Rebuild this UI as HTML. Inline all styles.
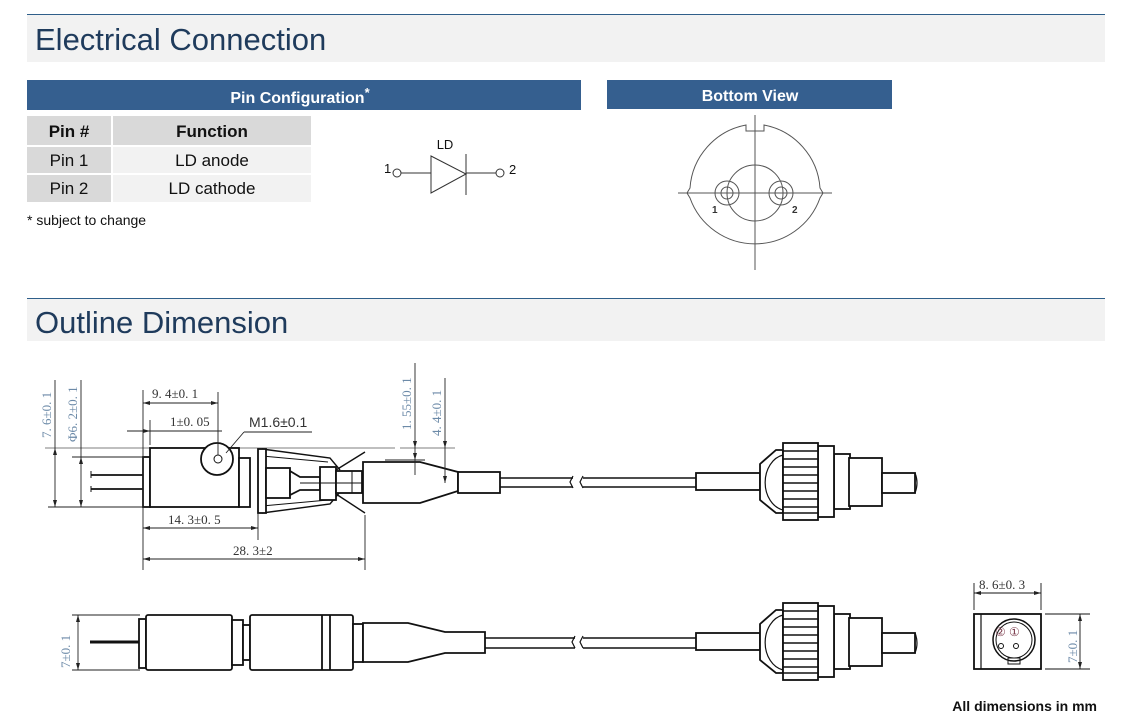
<!DOCTYPE html>
<html><head><meta charset="utf-8"><style>
body{margin:0;width:1124px;height:720px;background:#fff;overflow:hidden;font-family:"Liberation Sans",Arial,sans-serif}
svg{position:absolute;left:0;top:0}
</style></head><body>
<svg width="1124" height="720" viewBox="0 0 1124 720" xmlns="http://www.w3.org/2000/svg">
<defs>
<g id="conn" fill="#fff" stroke="#111" stroke-width="1.8">
  <rect x="696" y="473" width="64" height="17"/>
  <polygon points="760,464 776,450 783,450 783,513 776,513 760,500"/>
  <path d="M783,455 A22,28 0 0 0 783,510" fill="none" stroke-width="1.2"/>
  <rect x="834" y="454" width="16" height="55"/>
  <rect x="849" y="458" width="33" height="48"/>
  <rect x="882" y="473" width="33" height="20"/>
  <path d="M915,473 q4,10 0,20" fill="none" stroke-width="1.2"/>
  <rect x="818" y="446" width="16" height="71"/>
  <rect x="783" y="443" width="35" height="77"/>
  <path d="M783,451H818M783,459H818M783,467H818M783,475H818M783,483H818M783,491H818M783,499H818M783,507H818M783,513H818" stroke-width="1.4"/>
</g>
</defs>

<rect x="27" y="14" width="1078" height="48" fill="#f2f2f2"/>
<line x1="27" y1="14.5" x2="1105" y2="14.5" stroke="#2f5f8a" stroke-width="1"/>
<text x="35" y="50" font-size="31" fill="#1f3b5c">Electrical Connection</text>
<rect x="27" y="299" width="1078" height="42" fill="#f2f2f2"/>
<line x1="27" y1="298.5" x2="1105" y2="298.5" stroke="#2f5f8a" stroke-width="1"/>
<text x="35" y="333" font-size="31" fill="#1f3b5c">Outline Dimension</text>

<rect x="27" y="80" width="554" height="30" fill="#355f8f"/>
<text x="300" y="103" font-size="16" font-weight="bold" fill="#fff" text-anchor="middle">Pin Configuration<tspan dy="-6" font-size="13">*</tspan></text>
<rect x="27" y="116" width="84" height="29" fill="#d9d9d9"/>
<rect x="113" y="116" width="198" height="29" fill="#d9d9d9"/>
<rect x="27" y="147" width="84" height="26" fill="#d9d9d9"/>
<rect x="113" y="147" width="198" height="26" fill="#f2f2f2"/>
<rect x="27" y="175" width="84" height="27" fill="#d9d9d9"/>
<rect x="113" y="175" width="198" height="27" fill="#f2f2f2"/>
<g font-size="17" text-anchor="middle" fill="#111">
<text x="69" y="137" font-weight="bold">Pin #</text>
<text x="212" y="137" font-weight="bold">Function</text>
<text x="69" y="166">Pin 1</text>
<text x="212" y="166">LD anode</text>
<text x="69" y="194">Pin 2</text>
<text x="212" y="194">LD cathode</text>
</g>
<text x="27" y="225" font-size="14" fill="#111">* subject to change</text>

<g stroke="#333" stroke-width="1" fill="none">
<circle cx="397" cy="173" r="4"/>
<line x1="401" y1="173" x2="431" y2="173"/>
<polygon points="431,156 431,193 466,174"/>
<line x1="466" y1="154" x2="466" y2="195"/>
<line x1="466" y1="173" x2="496" y2="173"/>
<circle cx="500" cy="173" r="4"/>
</g>
<text x="445" y="149" font-size="13" fill="#111" text-anchor="middle">LD</text>
<text x="384" y="173" font-size="13" fill="#111">1</text>
<text x="509" y="174" font-size="13" fill="#111">2</text>

<rect x="607" y="80" width="285" height="29" fill="#355f8f"/>
<text x="750" y="101" font-size="16" font-weight="bold" fill="#fff" text-anchor="middle">Bottom View</text>
<g stroke="#555" stroke-width="1" fill="none">
<path d="M746,125 L746,131 L764,131 L764,125 A69,69 0 0 1 820,188 L823,193 L820,198 A69,69 0 0 1 690,198 L687,193 L690,188 A69,69 0 0 1 746,125 Z"/>
<line x1="755" y1="115" x2="755" y2="270"/>
<line x1="678" y1="193" x2="832" y2="193"/>
<circle cx="755" cy="193" r="28"/>
<circle cx="727" cy="193" r="12"/><circle cx="727" cy="193" r="6"/>
<circle cx="781" cy="193" r="12"/><circle cx="781" cy="193" r="6"/>
</g>
<text x="712" y="213" font-size="10" font-weight="bold" fill="#333">1</text>
<text x="792" y="213" font-size="10" font-weight="bold" fill="#333">2</text>

<g stroke="#aaa" stroke-width="1.5"><line x1="45" y1="448" x2="395" y2="448"/><line x1="400" y1="448" x2="455" y2="448"/></g>
<g fill="#fff" stroke="#111" stroke-width="1.8">
<line x1="91" y1="475" x2="143" y2="475"/><line x1="91" y1="489" x2="143" y2="489"/>
<line x1="91" y1="471" x2="91" y2="478" stroke-width="1"/><line x1="91" y1="486" x2="91" y2="492" stroke-width="1"/>
<rect x="143" y="457" width="7" height="50"/>
<rect x="150" y="448" width="89" height="59"/>
<circle cx="217" cy="459" r="16"/>
<circle cx="218" cy="459" r="4" stroke-width="1"/>
<rect x="239" y="458" width="11" height="49"/>
<path d="M262,449 L330,458 L340,470 M262,513 L330,504 L340,492" fill="none" stroke-width="1.4"/>
<path d="M262,456 L328,462 M262,506 L328,500" fill="none" stroke-width="1"/>
<rect x="258" y="449" width="8" height="64"/>
<rect x="266" y="468" width="24" height="30"/>
<polygon points="290,471 300,477 320,477 320,490 300,490 290,495"/>
<rect x="320" y="467" width="16" height="33"/>
<rect x="336" y="471" width="26" height="22"/>
<line x1="352" y1="471" x2="352" y2="493" stroke-width="1"/>
<path d="M336,470 L365,452 M336,494 L365,513" stroke-width="1.4"/>
<line x1="300" y1="483" x2="455" y2="483" stroke-width="1"/>
<polygon points="363,462 420,462 458,472 458,491 420,503 363,503"/>
<rect x="458" y="472" width="42" height="21"/>
<path d="M500,478 H573 M500,487 H573 M583,478 H696 M583,487 H696" stroke-width="1.6"/>
<path d="M573,476 l-3,6 l3,6 M583,476 l-3,6 l3,6" fill="none" stroke-width="1.2"/>
</g>
<use href="#conn"/>

<g stroke="#222" stroke-width="0.9" fill="none">
<line x1="48" y1="507" x2="143" y2="507"/>
<line x1="72" y1="457" x2="143" y2="457"/>
<line x1="55" y1="380" x2="55" y2="507"/>
<line x1="81" y1="380" x2="81" y2="507"/>
<line x1="143" y1="390" x2="143" y2="570"/>
<line x1="218" y1="392" x2="218" y2="455"/>
<line x1="150" y1="420" x2="150" y2="445"/>
<line x1="143" y1="403" x2="218" y2="403"/>
<line x1="127" y1="431" x2="222" y2="431"/>
<line x1="143" y1="528" x2="258" y2="528"/>
<line x1="258" y1="513" x2="258" y2="540"/>
<line x1="143" y1="559" x2="365" y2="559"/>
<line x1="365" y1="515" x2="365" y2="570"/>
<line x1="415" y1="363" x2="415" y2="475"/>
<line x1="445" y1="378" x2="445" y2="483"/>
<line x1="385" y1="460" x2="425" y2="460"/>
<line x1="226" y1="453" x2="244" y2="432"/><line x1="244" y1="432" x2="312" y2="432"/>
</g>
<g fill="#222">
<polygon points="143,403 150,401 150,405"/><polygon points="218,403 211,401 211,405"/>
<polygon points="150,431 143,429 143,433"/>
<polygon points="143,528 150,526 150,530"/><polygon points="258,528 251,526 251,530"/>
<polygon points="143,559 150,557 150,561"/><polygon points="365,559 358,557 358,561"/>
<polygon points="55,448 53,455 57,455"/><polygon points="55,507 53,500 57,500"/>
<polygon points="81,457 79,464 83,464"/><polygon points="81,507 79,500 83,500"/>
<polygon points="415,460 413,453 417,453"/><polygon points="415,448 413,441 417,441"/>
<polygon points="445,448 443,441 447,441"/><polygon points="445,483 443,476 447,476"/>
</g>
<g font-family="Liberation Serif,serif" font-size="13" fill="#333">
<text x="152" y="398">9. 4±0. 1</text>
<text x="170" y="426">1±0. 05</text>
<text x="249" y="427" font-family="Liberation Sans,sans-serif" font-size="14">M1.6±0.1</text>
<text x="168" y="524">14. 3±0. 5</text>
<text x="233" y="555">28. 3±2</text>
</g>
<g font-family="Liberation Serif,serif" font-size="13" fill="#6c8aa8">
<text transform="translate(51,438) rotate(-90)">7. 6±0. 1</text>
<text transform="translate(77,442) rotate(-90)">Φ6. 2±0. 1</text>
<text transform="translate(411,430) rotate(-90)">1. 55±0. 1</text>
<text transform="translate(441,436) rotate(-90)">4. 4±0. 1</text>
<text transform="translate(70,668) rotate(-90)">7±0. 1</text>
<text transform="translate(1077,663) rotate(-90)">7±0. 1</text>
</g>

<g fill="#fff" stroke="#111" stroke-width="1.8">
<line x1="90" y1="642" x2="139" y2="642" stroke-width="3"/>
<rect x="139" y="619" width="7" height="49"/>
<rect x="146" y="615" width="86" height="55" rx="2"/>
<rect x="232" y="620" width="11" height="45"/>
<rect x="243" y="625" width="7" height="35"/>
<rect x="250" y="615" width="103" height="55" rx="2"/>
<line x1="322" y1="615" x2="322" y2="670"/><line x1="330" y1="615" x2="330" y2="670"/>
<rect x="353" y="624" width="10" height="38"/>
<polygon points="363,623 408,623 445,632 485,632 485,653 445,653 408,662 363,662"/>
<path d="M485,638 H575 M485,648 H575 M583,638 H697 M583,648 H697" stroke-width="1.6"/>
<path d="M575,636 l-3,6 l3,6 M583,636 l-3,6 l3,6" fill="none" stroke-width="1.2"/>
</g>
<g stroke="#222" stroke-width="0.9"><line x1="72" y1="615" x2="140" y2="615"/><line x1="72" y1="670" x2="140" y2="670"/><line x1="78" y1="615" x2="78" y2="670"/></g>
<g fill="#222"><polygon points="78,615 76,622 80,622"/><polygon points="78,670 76,663 80,663"/></g>
<use href="#conn" transform="translate(0,160)"/>

<g stroke="#111" fill="none">
<rect x="974" y="614" width="67" height="55" stroke-width="1.8"/>
<line x1="981" y1="614" x2="981" y2="669" stroke-width="1.2"/>
<circle cx="1014" cy="640" r="21" stroke-width="1.5"/>
<circle cx="1014" cy="640" r="18" stroke-width="1"/>
<rect x="1008" y="658" width="12" height="6" stroke-width="1"/>
<circle cx="1001" cy="646" r="2.5" stroke-width="1"/><circle cx="1016" cy="646" r="2.5" stroke-width="1"/>
<g stroke-width="0.9"><line x1="974" y1="583" x2="974" y2="610"/><line x1="1041" y1="583" x2="1041" y2="610"/><line x1="974" y1="593" x2="1041" y2="593"/>
<line x1="1045" y1="614" x2="1090" y2="614"/><line x1="1045" y1="669" x2="1090" y2="669"/><line x1="1080" y1="614" x2="1080" y2="669"/></g>
</g>
<g fill="#222"><polygon points="974,593 981,591 981,595"/><polygon points="1041,593 1034,591 1034,595"/><polygon points="1080,614 1078,621 1082,621"/><polygon points="1080,669 1078,662 1082,662"/></g>
<text x="979" y="589" font-family="Liberation Serif,serif" font-size="13" fill="#333">8. 6±0. 3</text>
<text x="995" y="636" font-family="Liberation Serif,serif" font-size="12" fill="#7a3a4a">②</text>
<text x="1009" y="636" font-family="Liberation Serif,serif" font-size="12" fill="#7a3a4a">①</text>

<text x="1097" y="711" font-size="14" font-weight="bold" fill="#111" text-anchor="end">All dimensions in mm</text>
</svg>
</body></html>
